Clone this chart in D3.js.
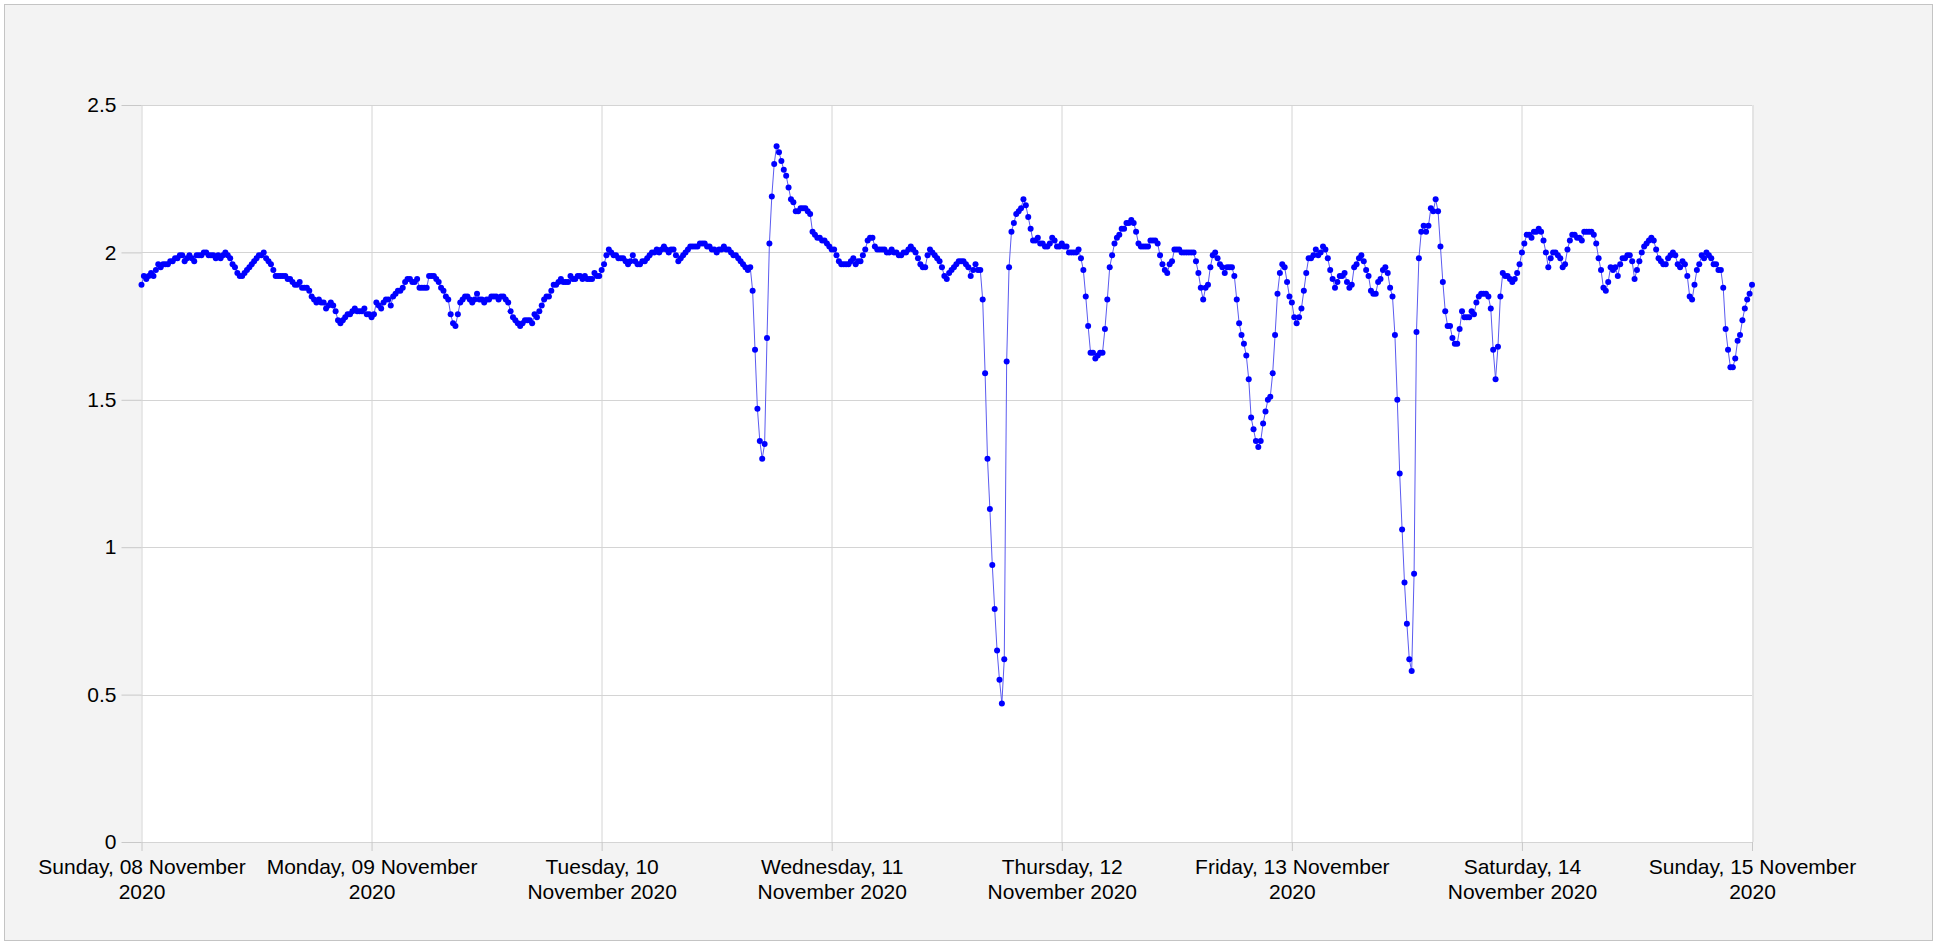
<!DOCTYPE html>
<meta charset="utf-8">
<style>
body {
  margin: 0;
  background-color: #fff;
}
svg {
  display: block;
}
.axis text {
  font-family: "Liberation Sans", Arial, sans-serif;
  font-size: 21px;
  fill: #000;
}
.axis path { display: none; }
.axis line { stroke: #c8c8c8; }
.grid line { stroke: #d4d4d4; stroke-width: 1; }
</style>
<body>

<script src="https://d3js.org/d3.v7.min.js"></script>

<script>
// readings every 15 minutes, one array per day (96 values each)
var startTime = "2020-11-08 00:00";
var stepMinutes = 15;

var sun08 = [1.89,1.92,1.91,1.92,1.93,1.92,1.94,1.96,1.95,1.96,1.96,1.96,
  1.97,1.97,1.98,1.98,1.99,1.99,1.97,1.98,1.99,1.98,1.97,1.99,
  1.99,1.99,2.00,2.00,1.99,1.99,1.99,1.98,1.99,1.98,1.99,2.00,
  1.99,1.98,1.96,1.95,1.93,1.92,1.92,1.93,1.94,1.95,1.96,1.97,
  1.98,1.99,1.99,2.00,1.98,1.97,1.96,1.94,1.92,1.92,1.92,1.92,
  1.92,1.91,1.91,1.90,1.89,1.89,1.90,1.88,1.88,1.88,1.87,1.85,
  1.84,1.83,1.84,1.83,1.83,1.81,1.82,1.83,1.82,1.80,1.77,1.76,
  1.77,1.78,1.79,1.79,1.80,1.81,1.80,1.80,1.80,1.81,1.79,1.79];
var mon09 = [1.78,1.79,1.83,1.82,1.81,1.83,1.84,1.84,1.82,1.85,1.86,1.87,
  1.87,1.88,1.90,1.91,1.91,1.90,1.90,1.91,1.88,1.88,1.88,1.88,
  1.92,1.92,1.92,1.91,1.90,1.88,1.87,1.85,1.84,1.79,1.76,1.75,
  1.79,1.83,1.84,1.85,1.85,1.84,1.83,1.84,1.86,1.84,1.84,1.83,
  1.84,1.84,1.85,1.85,1.85,1.84,1.85,1.85,1.84,1.83,1.80,1.78,
  1.77,1.76,1.75,1.76,1.77,1.77,1.77,1.76,1.79,1.78,1.80,1.82,
  1.84,1.85,1.85,1.87,1.89,1.89,1.90,1.91,1.90,1.90,1.90,1.92,
  1.91,1.91,1.92,1.92,1.91,1.92,1.91,1.91,1.91,1.93,1.92,1.92];
var tue10 = [1.94,1.96,1.99,2.01,2.00,1.99,1.99,1.98,1.98,1.98,1.97,1.96,
  1.97,1.99,1.97,1.96,1.96,1.97,1.97,1.98,1.99,2.00,2.00,2.01,
  2.00,2.01,2.02,2.01,2.00,2.01,2.01,1.99,1.97,1.98,1.99,2.00,
  2.01,2.02,2.02,2.02,2.02,2.03,2.03,2.03,2.02,2.02,2.01,2.01,
  2.00,2.01,2.01,2.02,2.01,2.01,2.00,1.99,1.99,1.98,1.97,1.96,
  1.95,1.94,1.95,1.87,1.67,1.47,1.36,1.30,1.35,1.71,2.03,2.19,
  2.30,2.36,2.34,2.31,2.28,2.26,2.22,2.18,2.17,2.14,2.14,2.15,
  2.15,2.15,2.14,2.13,2.07,2.06,2.05,2.05,2.04,2.04,2.03,2.02];
var wed11 = [2.01,2.01,1.99,1.97,1.96,1.96,1.96,1.96,1.97,1.98,1.96,1.97,
  1.97,1.99,2.01,2.04,2.05,2.05,2.02,2.01,2.01,2.01,2.01,2.00,
  2.00,2.01,2.00,2.00,1.99,1.99,2.00,2.00,2.01,2.02,2.01,2.00,
  1.98,1.96,1.95,1.95,1.99,2.01,2.00,1.99,1.98,1.97,1.95,1.92,
  1.91,1.93,1.94,1.95,1.96,1.97,1.97,1.97,1.96,1.95,1.92,1.94,
  1.96,1.94,1.94,1.84,1.59,1.30,1.13,0.94,0.79,0.65,0.55,0.47,
  0.62,1.63,1.95,2.07,2.10,2.13,2.14,2.15,2.18,2.16,2.12,2.08,
  2.04,2.04,2.05,2.03,2.03,2.02,2.02,2.03,2.05,2.04,2.02,2.02];
var thu12 = [2.03,2.02,2.02,2.00,2.00,2.00,2.00,2.01,1.98,1.94,1.85,1.75,
  1.66,1.66,1.64,1.65,1.66,1.66,1.74,1.84,1.95,1.99,2.03,2.05,
  2.06,2.08,2.08,2.10,2.10,2.11,2.10,2.07,2.03,2.02,2.02,2.02,
  2.02,2.04,2.04,2.04,2.03,1.99,1.96,1.94,1.93,1.96,1.97,2.01,
  2.01,2.01,2.00,2.00,2.00,2.00,2.00,2.00,1.97,1.93,1.88,1.84,
  1.88,1.89,1.95,1.99,2.00,1.98,1.96,1.95,1.93,1.95,1.95,1.95,
  1.92,1.84,1.76,1.72,1.69,1.65,1.57,1.44,1.40,1.36,1.34,1.36,
  1.42,1.46,1.50,1.51,1.59,1.72,1.86,1.93,1.96,1.95,1.90,1.85];
var fri13 = [1.83,1.78,1.76,1.78,1.81,1.87,1.93,1.98,1.98,1.99,2.01,1.99,
  2.00,2.02,2.01,1.98,1.94,1.91,1.88,1.90,1.92,1.92,1.93,1.90,
  1.88,1.89,1.95,1.96,1.98,1.99,1.97,1.94,1.92,1.87,1.86,1.86,
  1.90,1.91,1.94,1.95,1.93,1.88,1.85,1.72,1.50,1.25,1.06,0.88,
  0.74,0.62,0.58,0.91,1.73,1.98,2.07,2.09,2.07,2.09,2.15,2.14,
  2.18,2.14,2.02,1.90,1.80,1.75,1.75,1.71,1.69,1.69,1.74,1.80,
  1.78,1.78,1.78,1.80,1.79,1.83,1.85,1.86,1.86,1.86,1.85,1.81,
  1.67,1.57,1.68,1.85,1.93,1.92,1.92,1.91,1.90,1.91,1.93,1.96];
var sat14 = [2.00,2.03,2.06,2.06,2.05,2.07,2.07,2.08,2.07,2.04,2.00,1.95,
  1.98,2.00,2.00,1.99,1.98,1.95,1.96,2.01,2.04,2.06,2.06,2.05,
  2.05,2.04,2.07,2.07,2.07,2.07,2.06,2.03,1.98,1.94,1.88,1.87,
  1.90,1.95,1.94,1.95,1.92,1.96,1.98,1.98,1.99,1.99,1.97,1.91,
  1.94,1.97,2.00,2.02,2.03,2.04,2.05,2.04,2.01,1.98,1.97,1.96,
  1.96,1.98,1.99,2.00,1.99,1.96,1.95,1.97,1.96,1.92,1.85,1.84,
  1.89,1.94,1.96,1.99,1.98,2.00,1.99,1.98,1.96,1.96,1.94,1.94,
  1.88,1.74,1.67,1.61,1.61,1.64,1.70,1.72,1.77,1.81,1.84,1.86];
var sun15 = [1.89];

var yTicks = [0, 0.5, 1, 1.5, 2, 2.5];
var xTickDates = ["2020-11-08", "2020-11-09", "2020-11-10", "2020-11-11",
                  "2020-11-12", "2020-11-13", "2020-11-14", "2020-11-15"];
var xTickLabels = ["Sunday, 08 November 2020", "Monday, 09 November 2020",
                   "Tuesday, 10 November 2020", "Wednesday, 11 November 2020",
                   "Thursday, 12 November 2020", "Friday, 13 November 2020",
                   "Saturday, 14 November 2020", "Sunday, 15 November 2020"];

// build the series
var values = [].concat(sun08, mon09, tue10, wed11, thu12, fri13, sat14, sun15);
var t0 = d3.timeParse("%Y-%m-%d %H:%M")(startTime);
var data = values.map(function(v, i) {
  return {date: d3.timeMinute.offset(t0, i * stepMinutes), value: v};
});
var tickDates = xTickDates.map(d3.timeParse("%Y-%m-%d"));

var viewboxWidth = 1937,
    viewboxHeight = 945;
var margin = {top: 105, right: 185, bottom: 103, left: 141.5},
    width = viewboxWidth - margin.left - margin.right,
    height = viewboxHeight - margin.top - margin.bottom;

var x = d3.scaleTime()
    .domain([tickDates[0], tickDates[tickDates.length - 1]])
    .range([0, width]);
var y = d3.scaleLinear()
    .domain([0, 2.5])
    .range([height, 0]);

var root = d3.select("body").append("svg")
    .attr("width", viewboxWidth)
    .attr("height", viewboxHeight);

// outer panel
root.append("rect")
    .attr("x", 4.5).attr("y", 4.5)
    .attr("width", viewboxWidth - 9).attr("height", viewboxHeight - 9)
    .attr("fill", "#f3f3f3")
    .attr("stroke", "#c4c4c4");

var svg = root.append("g")
    .attr("transform", "translate(" + margin.left + "," + margin.top + ")");

svg.append("rect")
    .attr("width", width).attr("height", height)
    .attr("fill", "#fff");

// grid
svg.append("g").attr("class", "grid")
  .selectAll("line.h").data(yTicks).enter().append("line")
    .attr("x1", 0).attr("x2", width)
    .attr("y1", function(d) { return Math.round(y(d)) + 0.5; })
    .attr("y2", function(d) { return Math.round(y(d)) + 0.5; });
svg.append("g").attr("class", "grid")
  .selectAll("line.v").data(tickDates).enter().append("line")
    .attr("y1", 0).attr("y2", height)
    .attr("x1", function(d) { return Math.round(x(d)) + 0.5; })
    .attr("x2", function(d) { return Math.round(x(d)) + 0.5; });

// axes
svg.append("g")
    .attr("class", "axis")
    .call(d3.axisLeft(y)
      .tickValues(yTicks)
      .tickSize(20)
      .tickPadding(5)
      .tickFormat(d3.format("")));

var xAxis = svg.append("g")
    .attr("class", "axis")
    .attr("transform", "translate(0," + height + ")")
    .call(d3.axisBottom(x)
      .tickValues(tickDates)
      .tickSize(9)
      .tickPadding(8)
      .tickFormat(function(d, i) { return xTickLabels[i]; }));

xAxis.selectAll(".tick text").call(wrap, 215);

function wrap(text, maxWidth) {
  text.each(function() {
    var t = d3.select(this),
        words = t.text().split(/\s+/),
        line = [],
        lineNo = 0,
        yPos = t.attr("y"),
        dy = parseFloat(t.attr("dy")),
        tspan = t.text(null).append("tspan").attr("x", 0).attr("y", yPos).attr("dy", dy + "em");
    words.forEach(function(w) {
      line.push(w);
      tspan.text(line.join(" "));
      if (tspan.node().getComputedTextLength() > maxWidth && line.length > 1) {
        line.pop();
        tspan.text(line.join(" "));
        line = [w];
        tspan = t.append("tspan").attr("x", 0).attr("y", yPos)
          .attr("dy", (++lineNo * 1.2 + dy) + "em").text(w);
      }
    });
  });
}

// series
var line = d3.line()
    .x(function(d) { return x(d.date); })
    .y(function(d) { return y(d.value); });

svg.append("path")
    .datum(data)
    .attr("fill", "none")
    .attr("stroke", "#5b5bf0")
    .attr("stroke-width", 1)
    .attr("d", line);

svg.selectAll(".dot")
    .data(data)
  .enter().append("circle")
    .attr("class", "dot")
    .attr("cx", function(d) { return x(d.date); })
    .attr("cy", function(d) { return y(d.value); })
    .attr("r", 3)
    .attr("fill", "#0000ff");
</script>
</body>
